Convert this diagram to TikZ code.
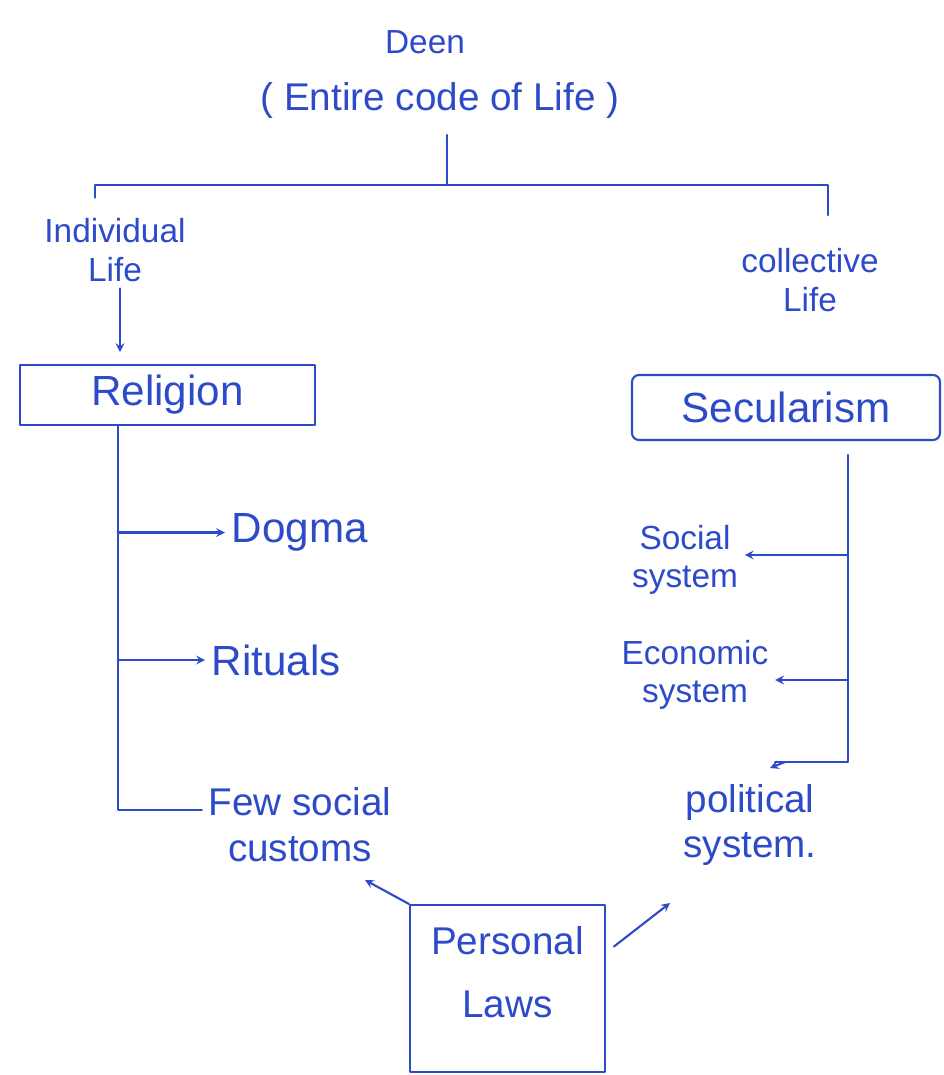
\documentclass[tikz,border=0pt]{standalone}
\usepackage{fontspec}
\setmainfont{Liberation Sans}
\definecolor{ink}{RGB}{45,75,200}
\begin{document}
\begin{tikzpicture}[line cap=round,line join=round,x=1.0cm,y=1.0cm,>=stealth,
  ink/.style={draw=ink,text=ink,line width=1.2pt},
  big/.style={font=\fontsize{24}{28}\selectfont},
  mid/.style={font=\fontsize{22}{26}\selectfont,align=center},
  sml/.style={font=\fontsize{19}{22}\selectfont,align=center},
  box/.style={draw,inner sep=0pt}]
 \useasboundingbox (0,0) rectangle (18.88,-21.5);
 \begin{scope}[ink]
 % top
 \node[sml,draw=none] (deen) at (8.5,-0.84) {Deen};
 \node[mid,draw=none] (code) at (8.8,-2.0) {( Entire code of Life )};
 \draw (8.94,-2.7) coordinate (stem) -- (8.94,-3.7) coordinate (mid);
 \draw (1.9,-3.95) coordinate (lt) -- (1.9,-3.7) -- (16.56,-3.7) -- (16.56,-4.3) coordinate (rt);
 \node[sml,draw=none] (indiv) at (2.3,-5.0) {Individual\\Life};
 \node[sml,draw=none] (coll) at (16.2,-5.6) {collective\\Life};
 % boxes
 \node[box,big,minimum width=5.9cm,minimum height=1.2cm] (religion) at (3.35,-7.9) {Religion};
 \node[box,big,minimum width=6.16cm,minimum height=1.3cm,rounded corners=4pt] (secular) at (15.72,-8.15) {Secularism};
 \draw[->] (indiv.south -| 2.4,0) -- (2.4,-7.04);
 % left branch
 \node[big,draw=none,anchor=west] (dogma) at (4.5,-10.65) {Dogma};
 \node[big,draw=none,anchor=west] (rituals) at (4.1,-13.2) {Rituals};
 \node[mid,draw=none] (customs) at (6.0,-16.5) {Few social\\customs};
 \draw (2.36,-8.5) -- (2.36,-16.2) -- (customs.west |- 0,-16.2);
 \draw[->] (2.36,0 |- dogma.west) -- (dogma.west);
 \draw[->] (2.36,0 |- rituals.west) -- (rituals.west);
 % right branch
 \node[sml,draw=none] (social) at (13.7,-11.2) {Social\\system};
 \node[sml,draw=none] (economic) at (13.9,-13.5) {Economic\\system};
 \node[mid,draw=none] (political) at (15.0,-16.5) {political\\system.};
 \draw (16.96,-9.1) -- (16.96,-15.24) -- (15.5,-15.24) coordinate (pend);
 \draw[->] (16.96,-11.1) -- (social.east |- 0,-11.1);
 \draw[->] (16.96,-13.6) -- (economic.east |- 0,-13.6);
 \draw[->] (15.7,-15.24) -- (15.4,-15.36);
 % personal laws
 \node[box,mid,minimum width=3.9cm,minimum height=3.34cm] (personal) at (10.15,-19.77)
   {\begin{minipage}[c][3.2cm][t]{3.8cm}\centering\vspace{0.35cm}Personal\\[10pt]Laws\end{minipage}};
 \coordinate (pl) at (7.3,-17.6);
 \coordinate (pr) at (13.4,-18.06);
 \draw[->] (personal.north west) -- (pl);
 \draw[->,shorten <=0.2cm] (personal.20) -- (pr);
 \end{scope}
\end{tikzpicture}
\end{document}
